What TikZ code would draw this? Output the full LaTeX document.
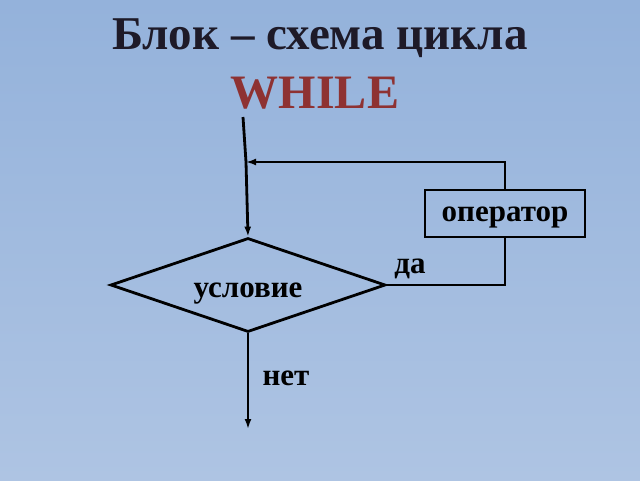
\documentclass[tikz,border=0pt]{standalone}
\usepackage{fontspec}
\setmainfont{Liberation Serif}
\usetikzlibrary{shapes.geometric,arrows.meta}
\definecolor{bgtop}{HTML}{94B2DB}
\definecolor{bgbot}{HTML}{AEC4E3}
\definecolor{titlered}{HTML}{8E3232}
\definecolor{ink}{HTML}{1E1A28}
\begin{document}
\begin{tikzpicture}[x=1pt,y=-1pt,
  line/.style={line width=2.8pt,draw=black},
  arr/.style={line,-{Latex[length=10pt,width=7pt]}},
  lbl/.style={font=\bfseries\fontsize{31}{34}\selectfont,text=black,inner sep=0pt}]
\shade[top color=bgtop,bottom color=bgbot] (0,0) rectangle (640,480);
\useasboundingbox (0,0) rectangle (640,480);
\node[font=\bfseries\fontsize{47}{52}\selectfont,text=ink,inner sep=0pt] (t1) at (320,38) {Блок – схема цикла};
\node[font=\bfseries\fontsize{48}{52}\selectfont,text=titlered,inner sep=0pt] (t2) at (315,93) {WHILE};
\node[diamond,aspect=2.9,draw,line width=2.8pt,minimum width=275pt,minimum height=94pt,inner sep=0pt] (cond) at (248,285) {};
\node[lbl] (condt) at (248,294) {условие};
\node[draw,line width=2.8pt,minimum width=160pt,minimum height=47pt,inner sep=0pt] (op) at (505,213.5) {};
\node[lbl] (opt) at (505,217) {оператор};
\node[lbl] (yes) at (410,269) {да};
\node[lbl] (no) at (286,378) {нет};
\coordinate (start) at (243,117);
\coordinate (join) at (246,162);
\coordinate (opin) at (505,162);
\coordinate (opout) at (505,285);
\coordinate (exit) at (248,429);
\draw[line] (start) -- (join);
\draw[arr] (join) -- (cond.north);
\draw[arr] (op.north) -- (opin) -- (join);
\draw[line] (cond.east) -- (opout) -- (op.south);
\draw[arr] (cond.south) -- (exit);
\end{tikzpicture}
\end{document}
